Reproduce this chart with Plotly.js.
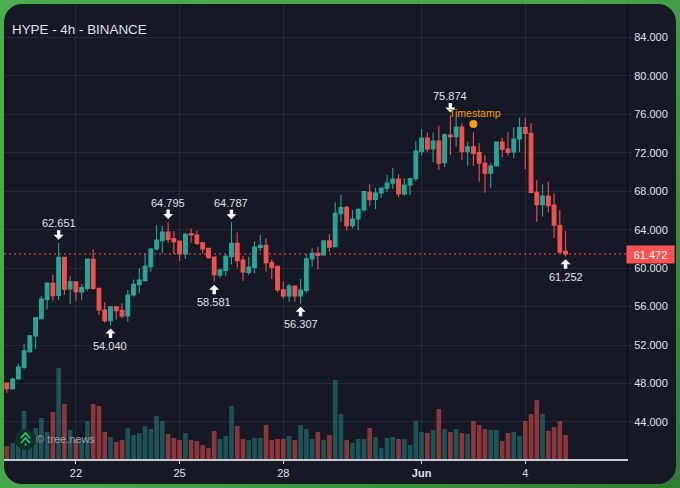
<!DOCTYPE html>
<html><head><meta charset="utf-8">
<script src="https://cdn.plot.ly/plotly-3.0.1.min.js"></script>
<style>
html,body{margin:0;padding:0;width:680px;height:488px;overflow:hidden;background:linear-gradient(135deg,#4caf50 0%,#46a349 50%,#2e7d32 100%);}
#panel{position:absolute;left:4px;top:4px;width:672px;height:480px;border-radius:18px;background:#161824;}
#chart{position:absolute;left:0;top:0;width:680px;height:488px;}
</style></head><body>
<div id="panel"></div><div id="chart"></div>
<script>
const chartTitle = "HYPE - 4h - BINANCE";
const opens = [48.05,47.46,48.46,49.68,51.3,52.94,54.74,56.75,58.42,57.17,61.12,57.83,58.59,57.52,57.9,60.92,57.9,55.64,54.53,55.99,55.6,55.02,57.2,58.28,58.7,60.16,61.99,62.86,63.76,63.07,62.82,61.47,63.59,63.45,62.65,62.06,61.16,59.28,59.77,61.2,62.58,60.85,59.56,60.08,62.16,62.37,60.57,60.19,57.76,57.1,58.14,57.1,57.69,60.95,61.54,61.37,62.86,62.24,65.67,66.33,64.42,65.12,66.05,67.89,67.16,67.82,68.31,68.83,69.28,67.72,68.65,69.31,72.12,73.55,72.4,73.23,70.98,73.86,73.68,74.69,72.12,72.64,72.02,70.91,69.87,70.63,73.13,72.4,72.09,73.44,74.62,74.03,67.89,66.61,67.51,66.57,64.46,61.75];
const highs = [48.05,48.6,50.09,52.17,53.0,54.9,57.13,58.5,59.29,62.651,61.15,59.18,58.6,58.35,61.0,61.96,57.95,56.44,56.0,56.0,56.34,57.73,58.83,59.98,61.54,62.13,64.49,64.38,64.795,63.86,62.85,63.69,64.14,63.9,62.7,62.1,61.2,59.86,61.47,64.787,63.72,61.26,61.19,62.82,63.45,63.1,60.9,60.2,58.59,58.35,58.15,58.87,61.47,62.06,62.2,62.9,63.55,66.85,67.61,66.5,66.05,66.23,68.03,68.72,68.38,68.38,69.7,70.46,69.76,69.35,69.42,73.23,74.48,74.13,74.13,74.83,74.03,75.874,75.76,75.07,73.16,74.14,72.99,71.78,70.98,73.14,73.58,74.14,74.66,75.66,75.59,75.07,69.18,68.72,69.0,67.79,66.05,63.87];
const lows = [47.04,47.32,48.4,49.47,51.2,51.6,54.67,55.71,56.61,56.68,57.24,56.27,56.61,56.68,57.62,57.73,55.12,54.33,54.04,54.67,54.78,54.43,57.03,57.38,58.66,59.63,61.88,61.54,62.58,61.47,60.74,60.95,62.65,62.41,61.47,60.98,58.581,59.0,59.18,60.4,60.08,58.7,59.28,59.46,61.78,59.63,58.87,57.48,56.86,56.5,56.51,56.307,57.38,60.15,59.87,61.3,61.72,62.2,64.77,63.9,64.15,63.97,65.88,66.5,66.16,67.3,67.96,68.24,67.37,67.54,67.61,69.07,71.71,72.12,71.01,70.22,70.49,71.78,72.64,71.26,70.65,70.63,69.0,67.86,68.38,70.56,71.53,71.71,71.43,72.05,70.32,67.87,64.84,65.36,65.78,63.1,61.63,61.252];
const closes = [47.46,48.46,49.71,51.41,52.97,54.85,56.79,58.45,57.13,61.12,57.79,58.59,57.55,57.97,60.95,57.9,55.64,54.53,55.99,55.57,55.02,57.2,58.31,58.77,60.19,61.99,62.93,63.76,63.0,62.75,61.47,63.52,63.45,62.58,62.0,61.09,59.32,59.84,61.23,62.58,60.78,59.6,60.12,62.2,62.37,60.57,60.08,57.72,57.1,58.14,57.1,57.72,60.98,61.54,61.33,62.86,62.17,65.71,66.3,64.42,65.12,66.12,67.96,67.13,67.82,68.34,68.86,69.28,67.72,68.65,69.31,72.19,73.55,72.4,73.23,70.91,73.89,73.68,74.69,72.12,72.64,71.95,70.91,69.87,70.63,73.13,72.37,72.05,73.44,74.62,74.03,67.89,66.61,67.51,66.5,64.46,61.65,61.472];
const volumes = [13,16,14,48,24,31,41,27,47,91,55,29,19,19,38,55,53,27,22,17,19,31,24,26,33,30,43,38,25,21,19,26,19,18,14,11,28,20,23,53,33,20,19,21,21,34,19,20,20,23,19,34,30,20,27,19,24,79,45,19,16,20,20,31,22,11,21,22,20,20,14,38,27,26,29,50,30,27,30,26,25,38,34,30,29,29,18,26,27,23,38,45,59,45,28,32,38,24];
const xTickVals = ["2025-05-22","2025-05-25","2025-05-28","2025-06-01","2025-06-04"];
const xTickText = ["22","25","28","<b>Jun</b>","4"];
const yTickVals = [44,48,52,56,60,64,68,72,76,80,84];
const highLabels = [[9,"62.651"],[28,"64.795"],[39,"64.787"],[77,"75.874"]];
const lowLabels = [[18,"54.040"],[36,"58.581"],[51,"56.307"],[97,"61.252"]];
const lastPrice = 61.472;
const tsPoint = {i:81, y:75.0, label:"Timestamp"};

const UP="#26a69a", DOWN="#ef5350", FONT="'Liberation Sans', Arial, sans-serif", TXT="#dfe2ea";
const H4=4*3600*1000, T0=Date.UTC(2025,4,20);
const iso=i=>new Date(T0+i*H4).toISOString().slice(0,19).replace('T',' ');
const dates=opens.map((_,i)=>iso(i));
const px=x=>(x-4)/623, py=y=>(459-y)/455;

const traces=[
 {type:'bar',x:dates,y:volumes,yaxis:'y2',width:H4*0.8,hoverinfo:'skip',
  marker:{color:opens.map((o,i)=>closes[i]>=o?'rgba(38,166,154,0.42)':'rgba(239,83,80,0.53)'),line:{width:0}}},
 {type:'candlestick',x:dates,open:opens,high:highs,low:lows,close:closes,whiskerwidth:0,
  increasing:{line:{color:UP,width:1.1},fillcolor:UP},decreasing:{line:{color:DOWN,width:1.1},fillcolor:DOWN}},
 {type:'scatter',mode:'markers',x:[iso(tsPoint.i)],y:[tsPoint.y],marker:{color:'#f59e0b',size:8},hoverinfo:'skip'}
];
const ann=[], arrows=[];
const lab=(i,text,y,dir)=>{
  // dir<0: arrow sits above the high, pointing down; dir>0: below the low, pointing up. s flips the pixel offsets.
  const s=dir<0?1:-1;
  arrows.push({type:'path',xref:'x',yref:'y',xsizemode:'pixel',ysizemode:'pixel',xanchor:dates[i],yanchor:y,layer:'above',
    fillcolor:'#ffffff',line:{width:0},
    path:`M 0 ${3*s} L 5 ${8*s} L 1.7 ${8*s} L 1.7 ${12.5*s} L -1.7 ${12.5*s} L -1.7 ${8*s} L -5 ${8*s} Z`});
  ann.push({x:dates[i],y:y,xref:'x',yref:'y',text:text,showarrow:false,yshift:dir<0?19.5:-20.5,yanchor:'middle',
    font:{family:FONT,size:11,color:TXT},borderpad:0});
};
ann.push({x:iso(tsPoint.i),y:tsPoint.y,xref:'x',yref:'y',text:tsPoint.label,showarrow:false,yshift:11,xshift:1.5,yanchor:'middle',font:{family:FONT,size:10.5,color:'#f59e0b'}});
highLabels.forEach(([i,t])=>lab(i,t,highs[i],-1));
lowLabels.forEach(([i,t])=>lab(i,t,lows[i],1));
ann.push({x:px(626),xref:'paper',xanchor:'left',y:lastPrice,yref:'y',text:lastPrice.toFixed(3),showarrow:false,width:47,height:17,
  bgcolor:'#ff5252',font:{family:FONT,size:11,color:'#ffffff'},align:'center',borderpad:0,xshift:0});
ann.push({x:px(36),xref:'paper',xanchor:'left',y:py(439),yref:'paper',yanchor:'middle',text:'© tree.news',showarrow:false,font:{family:FONT,size:11,color:'#9a9ea8'},borderpad:0,borderwidth:0});
const chev=(y)=>`M ${px(21)} ${py(y+5)} L ${px(25.5)} ${py(y)} L ${px(30)} ${py(y+5)}`;
const shapes=[
 {type:'line',xref:'paper',x0:0,x1:1,yref:'y',y0:lastPrice,y1:lastPrice,line:{color:'#ef5350',width:1,dash:'2px,3px'},layer:'above'},
 {type:'circle',xref:'paper',yref:'paper',x0:px(15),x1:px(36),y0:py(450),y1:py(429),fillcolor:'#0e3028',line:{width:0},layer:'above'},
 {type:'path',xref:'paper',yref:'paper',path:chev(433),line:{color:'#2ecc71',width:1.6},layer:'above'},
 {type:'path',xref:'paper',yref:'paper',path:chev(438),line:{color:'#2ecc71',width:1.6},layer:'above'},
 {type:'circle',xref:'paper',yref:'paper',x0:px(24.5),x1:px(26.5),y0:py(445.5),y1:py(443.5),fillcolor:'#2ecc71',line:{width:0},layer:'above'}
].concat(arrows);
const layout={
 width:680,height:488,margin:{l:4,r:53,t:4,b:29,pad:0},paper_bgcolor:'rgba(0,0,0,0)',plot_bgcolor:'rgba(0,0,0,0)',
 showlegend:false,dragmode:false,bargap:0.2,boxgap:0.08,
 font:{family:FONT,size:11,color:TXT},
 title:{text:chartTitle,x:12/680,xref:'container',xanchor:'left',y:1-29.5/488,yref:'container',yanchor:'middle',font:{family:FONT,size:13.4,color:TXT}},
 xaxis:{type:'date',range:[iso(-0.486),iso(107.66)],tickvals:xTickVals,ticktext:xTickText,tickmode:'array',showgrid:true,gridcolor:'rgba(255,255,255,0.07)',gridwidth:1,
  showline:true,linecolor:'#c9ccd3',linewidth:1.5,ticks:'outside',ticklen:3,tickcolor:'#c9ccd3',tickfont:{family:FONT,size:11,color:TXT},rangeslider:{visible:false},zeroline:false},
 yaxis:{range:[40.14,87.49],side:'right',tickmode:'array',tickvals:yTickVals,ticktext:yTickVals.map(v=>v.toFixed(3)),showgrid:true,gridcolor:'rgba(255,255,255,0.07)',gridwidth:1,
  showline:true,linecolor:'#0a0b11',linewidth:1,ticks:'outside',ticklen:4,tickcolor:'#2a2d38',tickfont:{family:FONT,size:11,color:TXT},zeroline:false},
 yaxis2:{overlaying:'y',range:[0,455],visible:false,fixedrange:true},
 annotations:ann,shapes:shapes
};
Plotly.newPlot('chart',traces,layout,{displayModeBar:false,staticPlot:true});
</script></body></html>
